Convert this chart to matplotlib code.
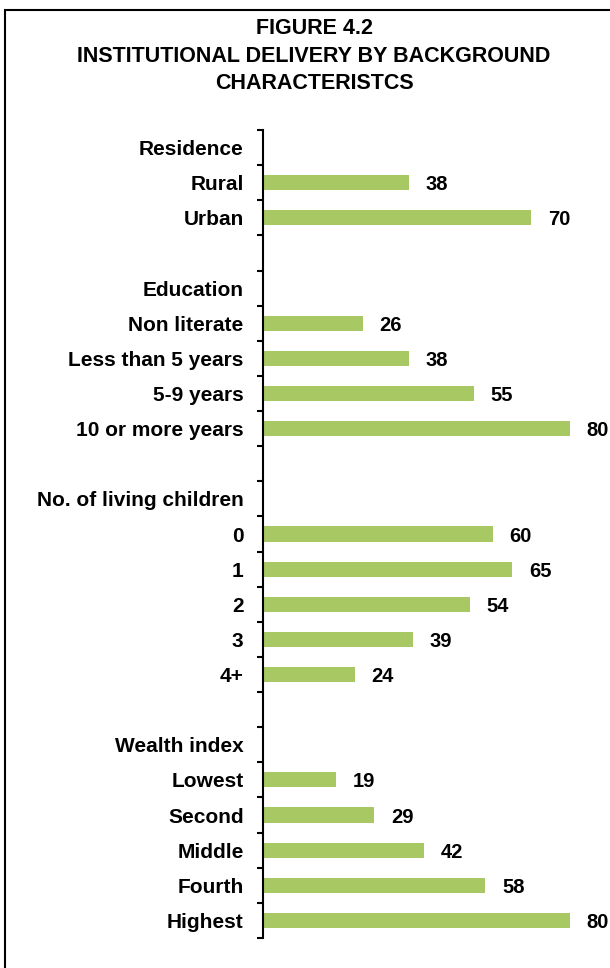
import matplotlib
matplotlib.use("Agg")
import matplotlib.pyplot as plt
from matplotlib.patches import Rectangle

plt.rcParams['font.family'] = ['Liberation Sans', 'DejaVu Sans']

labels = ["Residence", "Rural", "Urban", "",
          "Education", "Non literate", "Less than 5 years", "5-9 years", "10 or more years", "",
          "No. of living children", "0", "1", "2", "3", "4+", "",
          "Wealth index", "Lowest", "Second", "Middle", "Fourth", "Highest"]
values = [None, 38, 70, None,
          None, 26, 38, 55, 80, None,
          None, 60, 65, 54, 39, 24, None,
          None, 19, 29, 42, 58, 80]
title = "FIGURE 4.2\nINSTITUTIONAL DELIVERY BY BACKGROUND\nCHARACTERISTCS"
bar_color = "#A8C864"

W, H = 610, 968
fig = plt.figure(figsize=(W/100, H/100), dpi=100)
fig.patch.set_facecolor("white")

# border
fig.patches.append(Rectangle((5/W, -0.05), 1.2, 1 - 10/H + 0.05, transform=fig.transFigure,
                             fill=False, edgecolor="black", linewidth=1.5))

fig.text(314/W, 1 - 56/H, title, ha="center", va="center", fontsize=15.5, fontweight="bold",
         linespacing=1.42)

ax = fig.add_axes([263/W, 1 - 938/H, (608 - 263)/W, (938 - 130)/H])
n = len(labels)
ys = list(range(n))
for y, v in zip(ys, values):
    if v is None:
        continue
    ax.barh(y, v, height=0.43, color=bar_color)
    ax.annotate(f"{v}", (v, y), xytext=(12, -1.5), textcoords="offset points",
                ha="left", va="center", fontsize=14.5, fontweight="bold")

ax.set_xlim(0, 90)
ax.set_ylim(n - 0.5, -0.5)
ax.set_yticks([i - 0.5 for i in range(n + 1)])
ax.set_yticklabels([])
ax.set_yticks(ys, minor=True)
ax.set_yticklabels(labels, minor=True, fontsize=15, fontweight="bold")
ax.tick_params(axis="y", which="minor", length=0, pad=14)
ax.tick_params(axis="y", which="major", length=4, width=1.5, direction="out")
ax.set_xticks([])
for s in ["top", "right", "bottom"]:
    ax.spines[s].set_visible(False)
ax.spines["left"].set_linewidth(1.5)
ax.patch.set_alpha(0)

fig.savefig("out.png", dpi=100)
